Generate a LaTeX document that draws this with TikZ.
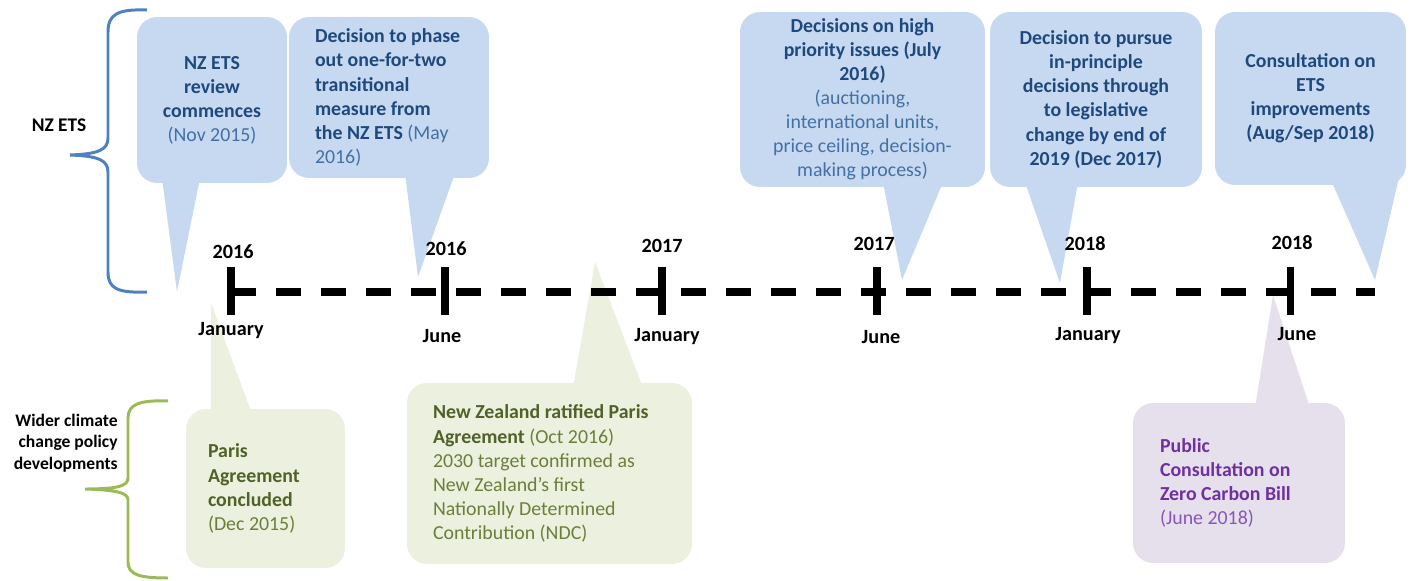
\documentclass[tikz,border=0pt]{standalone}
\usepackage{fontspec}
\setmainfont{Carlito}
\usetikzlibrary{calc}

\definecolor{etsfill}{HTML}{C6D9F1}
\definecolor{etsdark}{HTML}{1F497D}
\definecolor{etslight}{HTML}{4470A5}
\definecolor{etsbrace}{HTML}{4F81BD}
\definecolor{widerfill}{HTML}{EBF1DE}
\definecolor{widerdark}{HTML}{4F6228}
\definecolor{widerlight}{HTML}{6B7F3A}
\definecolor{widerbrace}{HTML}{9BBB59}
\definecolor{zcbfill}{HTML}{E5E0EC}
\definecolor{zcbdark}{HTML}{7030A0}
\definecolor{zcblight}{HTML}{8A55B8}

\begin{document}
\begin{tikzpicture}[x=0.02cm,y=-0.02cm]

      \useasboundingbox (0,0) rectangle (1413,581);

      % timeline points
      \coordinate (t1) at (231,292);
      \coordinate (t2) at (445,292);
      \coordinate (t3) at (662,292);
      \coordinate (t4) at (877,292);
      \coordinate (t5) at (1087,292);
      \coordinate (t6) at (1290,292);
      \coordinate (tend) at (1375,292);

      % pointer tips
      \coordinate (e1) at (177,292);
      \coordinate (e2) at (418,277);
      \coordinate (e3) at (902,280);
      \coordinate (e4) at (1060,283);
      \coordinate (e5) at (1375,280);
      \coordinate (w1) at (211,303);
      \coordinate (w2) at (595,262);
      \coordinate (z1) at (1273,295);

      \begin{scope}[every node/.style={rounded corners=0.4cm,inner sep=0pt}]
        \node[fill=etsfill,minimum width=3cm,minimum height=3.32cm] (b1) at (212,100) {};
        \node[fill=etsfill,minimum width=4cm,minimum height=3.22cm] (b2) at (389,97.5) {};
        \node[fill=etsfill,minimum width=4.9cm,minimum height=3.5cm] (b3) at (862.5,99.5) {};
        \node[fill=etsfill,minimum width=4.24cm,minimum height=3.5cm] (b4) at (1096,99.5) {};
        \node[fill=etsfill,minimum width=3.82cm,minimum height=3.46cm] (b5) at (1310.5,98.5) {};
        \node[fill=widerfill,minimum width=3.18cm,minimum height=3.18cm] (g1) at (265.5,488.5) {};
        \node[fill=widerfill,minimum width=5.7cm,minimum height=3.62cm] (g2) at (549.5,473.5) {};
        \node[fill=zcbfill,minimum width=4.24cm,minimum height=3.2cm] (p1) at (1239,483) {};
      \end{scope}

      % pointers
      \fill[etsfill] ($(b1.south)+(-50,-5)$) -- (e1) -- ($(b1.south)+(-12,-5)$) -- cycle;
      \fill[etsfill] ($(b2.south)+(16,-5)$) -- (e2) -- ($(b2.south)+(66,-5)$) -- cycle;
      \fill[etsfill] ($(b3.south)+(20.5,-5)$) -- (e3) -- ($(b3.south)+(80.5,-5)$) -- cycle;
      \fill[etsfill] ($(b4.south)+(-71,-5)$) -- (e4) -- ($(b4.south)+(-18,-5)$) -- cycle;
      \fill[etsfill] ($(b5.south)+(17.5,-12)$) -- (e5) -- ($(b5.south)+(89.5,-12)$) -- cycle;
      \fill[widerfill] ($(g1.north)+(-54.5,5)$) -- (w1) -- ($(g1.north)+(-13.5,5)$) -- cycle;
      \fill[widerfill] ($(g2.north)+(23.5,5)$) -- (w2) -- ($(g2.north)+(93.5,5)$) -- cycle;
      \fill[zcbfill] ($(p1.north)+(16,5)$) -- (z1) -- ($(p1.north)+(71,5)$) -- cycle;

      % callout texts
      \begin{scope}[every node/.style={font=\fontsize{11.3}{13.7}\selectfont,inner sep=0pt}]
        \node[etsdark,align=center] (n1) at (b1) {\textbf{NZ ETS}\\\textbf{review}\\\textbf{commences}\\{\color{etslight}(Nov 2015)}};
        \node[etsdark,align=left,anchor=west] (n2) at ([xshift=0.52cm]b2.west) {\textbf{Decision to phase}\\\textbf{out one-for-two}\\\textbf{transitional}\\\textbf{measure from}\\\textbf{the NZ ETS} {\color{etslight}(May}\\{\color{etslight}2016)}};
        \node[etsdark,align=center] (n3) at (b3) {\textbf{Decisions on high}\\\textbf{priority issues (July}\\\textbf{2016)}\\{\color{etslight}(auctioning,}\\{\color{etslight}international units,}\\{\color{etslight}price ceiling, decision-}\\{\color{etslight}making process)}};
        \node[etsdark,align=center] (n4) at (b4) {\textbf{Decision to pursue}\\\textbf{in-principle}\\\textbf{decisions through}\\\textbf{to legislative}\\\textbf{change by end of}\\\textbf{2019 (Dec 2017)}};
        \node[etsdark,align=center] (n5) at (b5) {\textbf{Consultation on}\\\textbf{ETS}\\\textbf{improvements}\\\textbf{(Aug/Sep 2018)}};
        \node[widerdark,align=left,anchor=west] (m1) at ([xshift=0.44cm]g1.west) {\textbf{Paris}\\\textbf{Agreement}\\\textbf{concluded}\\{\color{widerlight}(Dec 2015)}};
        \node[widerdark,align=left,anchor=west] (m2) at ([xshift=0.52cm]g2.west) {\textbf{New Zealand ratified Paris}\\\textbf{Agreement} {\color{widerlight}(Oct 2016)}\\{\color{widerlight}2030 target confirmed as}\\{\color{widerlight}New Zealand’s first}\\{\color{widerlight}Nationally Determined}\\{\color{widerlight}Contribution (NDC)}};
        \node[zcbdark,align=left,anchor=west] (q1) at ([xshift=0.54cm]p1.west) {\textbf{Public}\\\textbf{Consultation on}\\\textbf{Zero Carbon Bill}\\{\color{zcblight}(June 2018)}};
      \end{scope}

      % timeline
      \draw[line width=4pt,dash pattern=on 0.5cm off 0.4cm] (t1) -- (tend);
      \draw[line width=4pt] (t1) ++(0,-25) -- ++(0,48);
      \draw[line width=4pt] (t2) ++(0,-25) -- ++(0,48);
      \draw[line width=4pt] (t3) ++(0,-25) -- ++(0,48);
      \draw[line width=4pt] (t4) ++(0,-25) -- ++(0,48);
      \draw[line width=4pt] (t5) ++(0,-25) -- ++(0,48);
      \draw[line width=4pt] (t6) ++(0,-25) -- ++(0,48);

      \begin{scope}[every node/.style={font=\bfseries\fontsize{11.5}{14}\selectfont}]
        \node (y1) at (233,252) {2016};
        \node (y2) at (446,249) {2016};
        \node (y3) at (662,246) {2017};
        \node (y4) at (874,244) {2017};
        \node (y5) at (1085,244) {2018};
        \node (y6) at (1292,243) {2018};
        \node (m1) at (231,331) {January};
        \node (m2) at (442,336) {June};
        \node (m3) at (667,337) {January};
        \node (m4) at (881,337) {June};
        \node (m5) at (1088,336) {January};
        \node (m6) at (1297,334) {June};
      \end{scope}

      % braces
      \draw[etsbrace,line width=1.7pt] (147,10) .. controls (118,9) and (108,14) .. (108,32) -- (108,138)
        .. controls (108,150) and (98,154) .. (70,155) .. controls (98,156) and (108,160) .. (108,172)
        -- (108,272) .. controls (108,289) and (118,293) .. (147,292);
      \draw[widerbrace,line width=1.7pt] (168,401) .. controls (140,400) and (128,404) .. (128,418) -- (128,478)
        .. controls (128,486) and (118,489) .. (85,489) .. controls (118,490) and (128,493) .. (128,500)
        -- (128,562) .. controls (128,575) and (140,578) .. (168,578);

      \node[font=\bfseries\fontsize{11}{13.6}\selectfont] (ets) at (59,125) {NZ ETS};
      \node[font=\bfseries\fontsize{10}{12.2}\selectfont,align=right,anchor=east,inner sep=0pt] (wider) at (118,443) {Wider climate\\change policy\\developments};

    \end{tikzpicture}
\end{document}
